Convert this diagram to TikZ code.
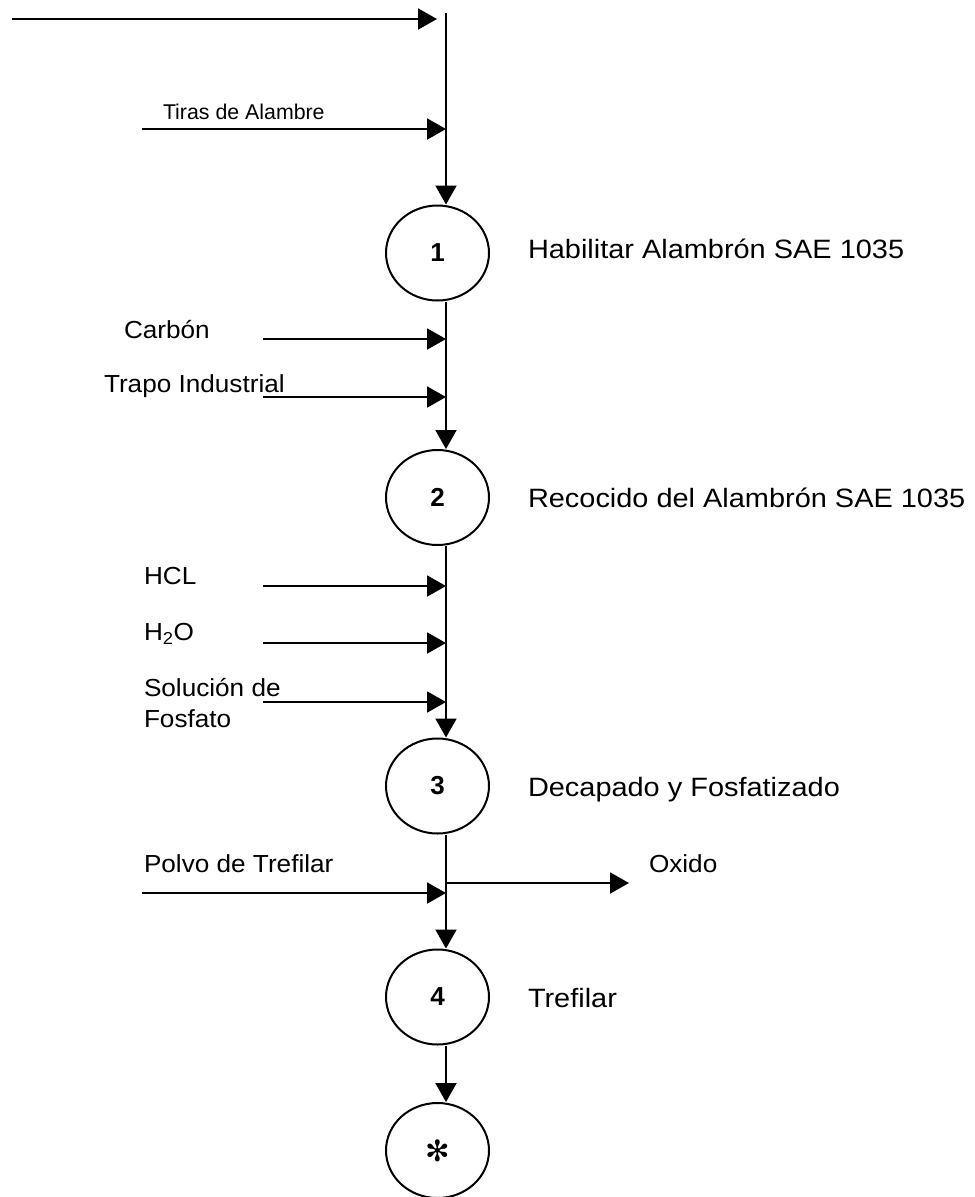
\documentclass[tikz,border=0pt]{standalone}
\usepackage{fontspec}
\setmainfont{Liberation Sans}
\newfontfamily\lfont[FakeStretch=1.06]{Liberation Sans}
\newfontfamily\rfont[FakeStretch=1.09]{Liberation Sans}
\newfontfamily\symfont{DejaVu Sans}
\usetikzlibrary{arrows.meta,shapes.geometric}
\begin{document}
\begin{tikzpicture}[x=0.75pt,y=-0.75pt,
  line width=1.5pt,
  flow/.style={-{Triangle[length=14.25pt,width=15.75pt]}},
  proc/.style={draw, ellipse, minimum width=77.25pt, minimum height=71.25pt, inner sep=0pt,
    font=\fontsize{19.5}{22}\selectfont\bfseries},
  inlbl/.style={anchor=base west, inner sep=0pt, font=\lfont\fontsize{18.5}{23.25}\selectfont},
  steplbl/.style={anchor=base west, inner sep=0pt, font=\rfont\fontsize{19.9}{23}\selectfont},
]
\useasboundingbox (0,0) rectangle (975,1197);
\fill[white] (0,0) rectangle (975,1197);

% process circles
\node[proc] (p1) at (437.5,253) {1};
\node[proc] (p2) at (437.5,497.5) {2};
\node[proc] (p3) at (437.5,786) {3};
\node[proc] (p4) at (437.5,997) {4};
\node[proc, font=\symfont\fontsize{22}{24}\selectfont] (p5) at (437.5,1150.5) {✻};

% main line
\coordinate (X) at (446,0);
\coordinate (top) at (446,13);
\draw[flow] (top) -- (p1.north -| X);
\draw[flow] (p1.south -| X) -- (p2.north -| X);
\draw[flow] (p2.south -| X) -- (p3.north -| X);
\draw[flow] (p3.south -| X) -- (p4.north -| X);
\draw[flow] (p4.south -| X) -- (p5.north -| X);

% feed arrows
\coordinate (f0s) at (12,19);  \coordinate (f0e) at (437,19);
\coordinate (f1s) at (142,129); \coordinate (f1e) at (446,129);
\coordinate (f2s) at (263,339); \coordinate (f2e) at (446,339);
\coordinate (f3s) at (263,397); \coordinate (f3e) at (446,397);
\coordinate (f4s) at (263,586); \coordinate (f4e) at (446,586);
\coordinate (f5s) at (263,643); \coordinate (f5e) at (446,643);
\coordinate (f6s) at (263,702); \coordinate (f6e) at (446,702);
\coordinate (f7s) at (142,893); \coordinate (f7e) at (446,893);
\coordinate (o1s) at (446,883); \coordinate (o1e) at (629,883);
\foreach \i in {0,...,7} {\draw[flow] (f\i s) -- (f\i e);}
\draw[flow] (o1s) -- (o1e);

% input labels
\node[inlbl, font=\fontsize{16}{19}\selectfont] (tiras) at (162,119) {Tiras de Alambre};
\node[inlbl] (carbon) at (123,338) {Carbón};
\node[inlbl] (trapo) at (103,392) {Trapo Industrial};
\node[inlbl] (hcl) at (143,584) {HCL};
\node[inlbl] (h2o) at (143,640) {H\textsubscript{2}O};
\node[inlbl, align=left] (sol) at (143,727) {Solución de\\Fosfato};
\node[inlbl] (polvo) at (143,872) {Polvo de Trefilar};
\node[inlbl] (oxido) at (648,872) {Oxido};

% step labels
\node[steplbl] (s1) at (527,258) {Habilitar Alambrón SAE 1035};
\node[steplbl] (s2) at (527,507) {Recocido del Alambrón SAE 1035};
\node[steplbl] (s3) at (527,796) {Decapado y Fosfatizado};
\node[steplbl] (s4) at (527,1007) {Trefilar};
\end{tikzpicture}
\end{document}
